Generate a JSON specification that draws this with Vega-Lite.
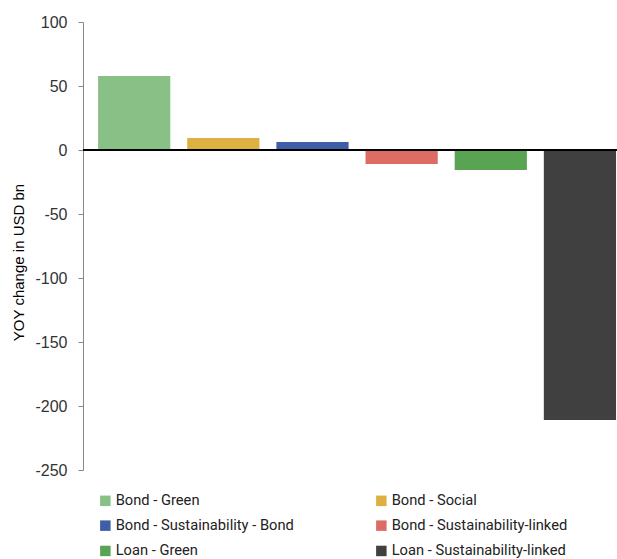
{
  "$schema": "https://vega.github.io/schema/vega-lite/v6.json",
  "autosize": "none",
  "width": 534,
  "height": 448,
  "padding": {"left": 83, "top": 22, "right": 0, "bottom": 89},
  "background": "white",
  "config": {"view": {"stroke": null}},
  "data": {"values": [
    {"category": "Bond - Green", "value": 57.8},
    {"category": "Bond - Social", "value": 9.4},
    {"category": "Bond - Sustainability - Bond", "value": 6.3},
    {"category": "Bond - Sustainability-linked", "value": -11},
    {"category": "Loan - Green", "value": -15.6},
    {"category": "Loan - Sustainability-linked", "value": -211}
  ]},
  "layer": [
    {
      "mark": {"type": "bar"},
      "encoding": {
        "x": {"field": "category", "type": "nominal", "sort": null, "axis": null,
              "scale": {"paddingInner": 0.19, "paddingOuter": 0.09, "align": 0.94}},
        "y": {"field": "value", "type": "quantitative",
              "scale": {"domain": [-250, 100], "nice": false},
              "axis": {"title": "YOY change in USD bn", "values": [-250, -200, -150, -100, -50, 0, 50, 100],
                       "labelExpr": "replace(datum.label, '\u2212', '-')",
                       "grid": false, "domainColor": "#888888", "tickColor": "#888888", "tickSize": 5,
                       "labelFont": "Liberation Sans", "labelFontSize": 16, "labelColor": "#333333", "labelPadding": 11,
                       "titleFont": "Liberation Sans", "titleFontSize": 15, "titleFontWeight": "normal", "titleColor": "#000000", "titlePadding": 8,
                       "titleY": 240}},
        "color": {"field": "category", "type": "nominal", "sort": null,
                  "scale": {"domain": ["Bond - Green", "Bond - Social", "Bond - Sustainability - Bond", "Bond - Sustainability-linked", "Loan - Green", "Loan - Sustainability-linked"],
                            "range": ["#88C086", "#DCB142", "#3F5EA8", "#DC6D64", "#58A453", "#404040"]},
                  "legend": {"title": null, "orient": "none", "legendX": 15, "legendY": 471, "columns": 2,
                             "direction": "horizontal", "symbolType": "square", "symbolSize": 110, "symbolStrokeWidth": 0,
                             "symbolOpacity": 1, "labelFont": "Roboto", "labelFontSize": 14.7, "labelColor": "#222222",
                             "labelOffset": 3, "rowPadding": 9.3, "columnPadding": 80, "labelLimit": 300}}
      }
    },
    {
      "mark": {"type": "rule", "color": "#000000", "strokeWidth": 1.3},
      "encoding": {"y": {"datum": 0}}
    }
  ]
}
